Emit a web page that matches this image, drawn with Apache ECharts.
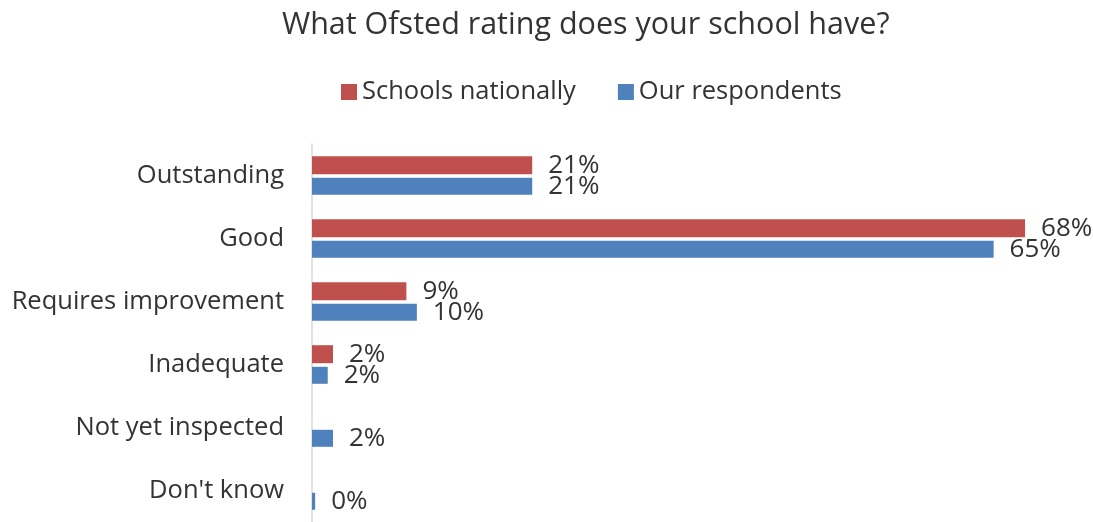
<!DOCTYPE html>
<html lang="en">
<head>
    <meta charset="UTF-8">
    <title>Ofsted rating</title>
    <script src="https://cdn.jsdelivr.net/npm/echarts@6/dist/echarts.min.js"></script>
    <style>
        html, body { margin: 0; padding: 0; background: #fff; }
        #chart { width: 1093px; height: 522px; }
    </style>
</head>
<body>
<div id="chart"></div>
<script>
    var categories = ['Outstanding', 'Good', 'Requires improvement', 'Inadequate', 'Not yet inspected', "Don't know"];
    var seriesNames = ['Schools nationally', 'Our respondents'];
    var nationally = [21, 68, 9, 2, null, null];
    var respondents = [21, 65, 10, 1.5, 2, 0.3];

    var textColor = '#333333';
    var font = 'Open Sans';

    function barLabel() {
        return {
            show: true,
            position: 'right',
            distance: 16,
            color: textColor,
            fontFamily: font,
            fontSize: 26,
            formatter: function (p) { return Math.round(p.value) + '%'; }
        };
    }

    var myChart = echarts.init(document.getElementById('chart'));
    var option = {
        animation: false,
        backgroundColor: '#fff',
        title: {
            text: 'What Ofsted rating does your school have?',
            left: 277,
            top: 5,
            textStyle: { color: textColor, fontFamily: font, fontSize: 30.5, fontWeight: 'normal' }
        },
        legend: {
            data: seriesNames,
            left: 336,
            top: 74,
            itemWidth: 16,
            itemHeight: 16,
            itemGap: 42,
            icon: 'rect',
            textStyle: { color: textColor, fontFamily: font, fontSize: 25.5 }
        },
        grid: { left: 312, top: 144, width: 776, height: 382 },
        xAxis: {
            type: 'value',
            min: 0,
            max: 74,
            show: false
        },
        yAxis: {
            type: 'category',
            data: categories,
            inverse: true,
            axisLine: { show: true, lineStyle: { color: '#d9d9d9', width: 1.5 } },
            axisTick: { show: false },
            axisLabel: { color: textColor, fontFamily: font, fontSize: 25.5, margin: 28, padding: [5, 0, 0, 0] }
        },
        series: [
            {
                name: seriesNames[0],
                type: 'bar',
                data: nationally,
                barWidth: 18,
                barGap: '20%',
                itemStyle: { color: '#C0504D' },
                label: barLabel()
            },
            {
                name: seriesNames[1],
                type: 'bar',
                data: respondents,
                barWidth: 17,
                barGap: '20%',
                itemStyle: { color: '#4F81BD' },
                label: barLabel()
            }
        ]
    };
    myChart.setOption(option);
</script>
</body>
</html>
